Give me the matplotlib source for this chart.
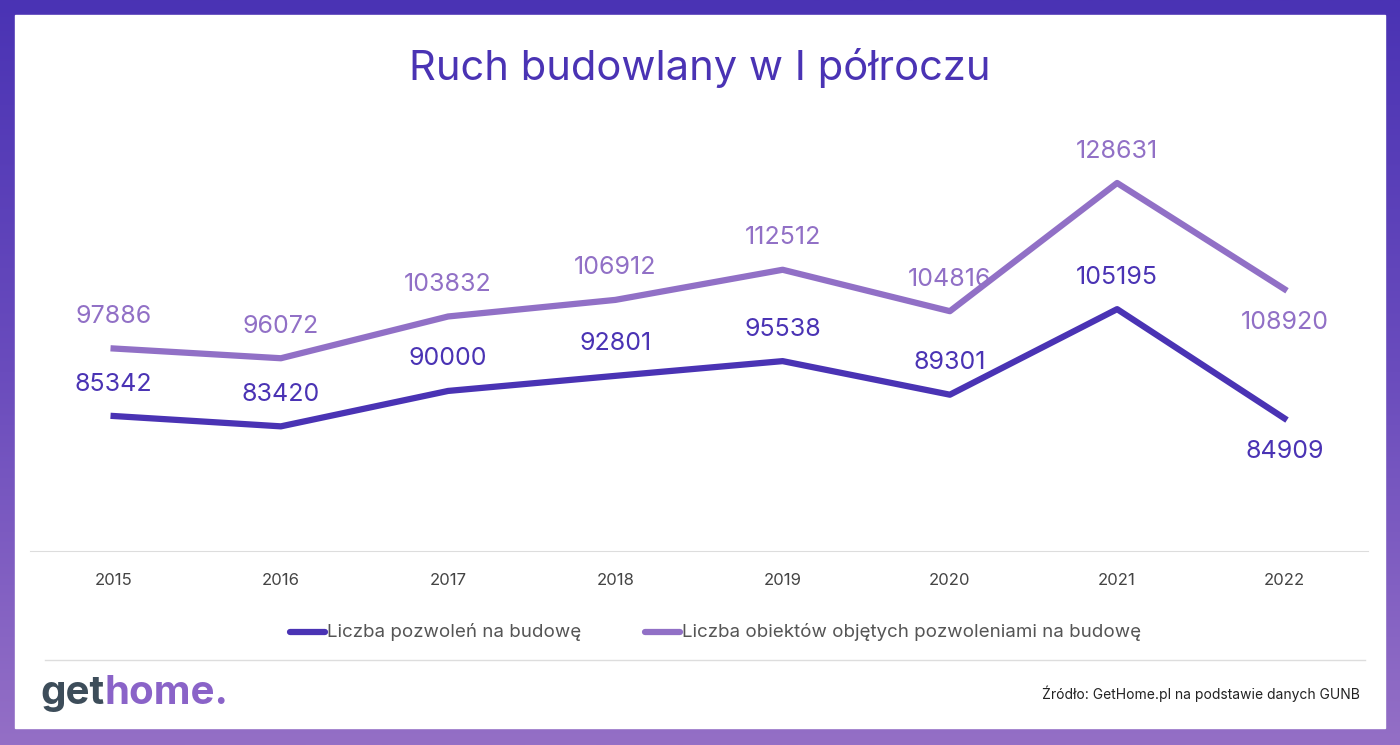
import matplotlib
matplotlib.use("Agg")
import matplotlib.pyplot as plt
import numpy as np
from matplotlib.patches import Rectangle
from matplotlib.colors import LinearSegmentedColormap

years = ["2015", "2016", "2017", "2018", "2019", "2020", "2021", "2022"]
permits = [85342, 83420, 90000, 92801, 95538, 89301, 105195, 84909]
objects = [97886, 96072, 103832, 106912, 112512, 104816, 128631, 108920]
permits_below = [False] * 7 + [True]
objects_below = [False] * 7 + [True]

DARK = "#4a33b4"
LIGHT = "#9170c6"
W, H = 1400, 745
plt.rcParams['font.family'] = ['Inter', 'DejaVu Sans']

fig = plt.figure(figsize=(14, 7.45), dpi=100)
bg = fig.add_axes([0, 0, 1, 1])
bg.set_xlim(0, W); bg.set_ylim(H, 0); bg.axis("off")
grad = np.linspace(0, 1, 256)[:, None]
cm = LinearSegmentedColormap.from_list("g", ["#4a33b4", "#6a4cbd", "#946fc6"])
bg.imshow(grad, cmap=cm, extent=[0, W, H, 0], aspect="auto")
bg.add_patch(Rectangle((15, 15), W - 30, 713, color="white"))
bg.text(W / 2, 68, "Ruch budowlany w I półroczu", ha="center", va="center",
        fontsize=30, color=DARK)
bg.plot([45, 1365], [660, 660], color="#dddddd", lw=1)
bg.plot([290, 325], [632, 632], color=DARK, lw=4.5, solid_capstyle="round")
bg.text(327, 632, "Liczba pozwoleń na budowę", va="center", fontsize=13.5, color="#555555")
bg.plot([645, 680], [632, 632], color=LIGHT, lw=4.5, solid_capstyle="round")
bg.text(682, 632, "Liczba obiektów objętych pozwoleniami na budowę", va="center",
        fontsize=13.5, color="#555555")
t1 = bg.text(40, 694, "get", va="center", fontsize=29, fontweight="bold", color="#3d4d5a")
bg.annotate("home.", xycoords=t1, xy=(1, 0.5), va="center", ha="left",
            fontsize=29, fontweight="bold", color="#8a63c8")
bg.text(1360, 694, "Źródło: GetHome.pl na podstawie danych GUNB", ha="right", va="center",
        fontsize=10, color="#222222")

ax = fig.add_axes([30 / W, 1 - 551 / H, 1338 / W, 451 / H])
ax.set_xlim(-0.5, 7.5)
ax.set_ylim(60262, 144050)
x = np.arange(len(years))
ax.plot(x, permits, color=DARK, lw=4.5)
ax.plot(x, objects, color=LIGHT, lw=4.5)
for xi, v, b in zip(x, permits, permits_below):
    ax.annotate(str(v), (xi, v), xytext=(0, -24 if b else -23 * -1), textcoords="offset points",
                ha="center", va="center", fontsize=18, color=DARK)
for xi, v, b in zip(x, objects, objects_below):
    ax.annotate(str(v), (xi, v), xytext=(0, -24 if b else 23), textcoords="offset points",
                ha="center", va="center", fontsize=18, color=LIGHT)
ax.set_xticks(x)
ax.set_xticklabels(years, fontsize=12, color="#444444")
ax.tick_params(axis="x", length=0, pad=16)
ax.set_yticks([])
for s in ["top", "right", "left"]:
    ax.spines[s].set_visible(False)
ax.spines["bottom"].set_color("#dddddd")
ax.patch.set_alpha(0)
fig.savefig("out.png", dpi=100)
